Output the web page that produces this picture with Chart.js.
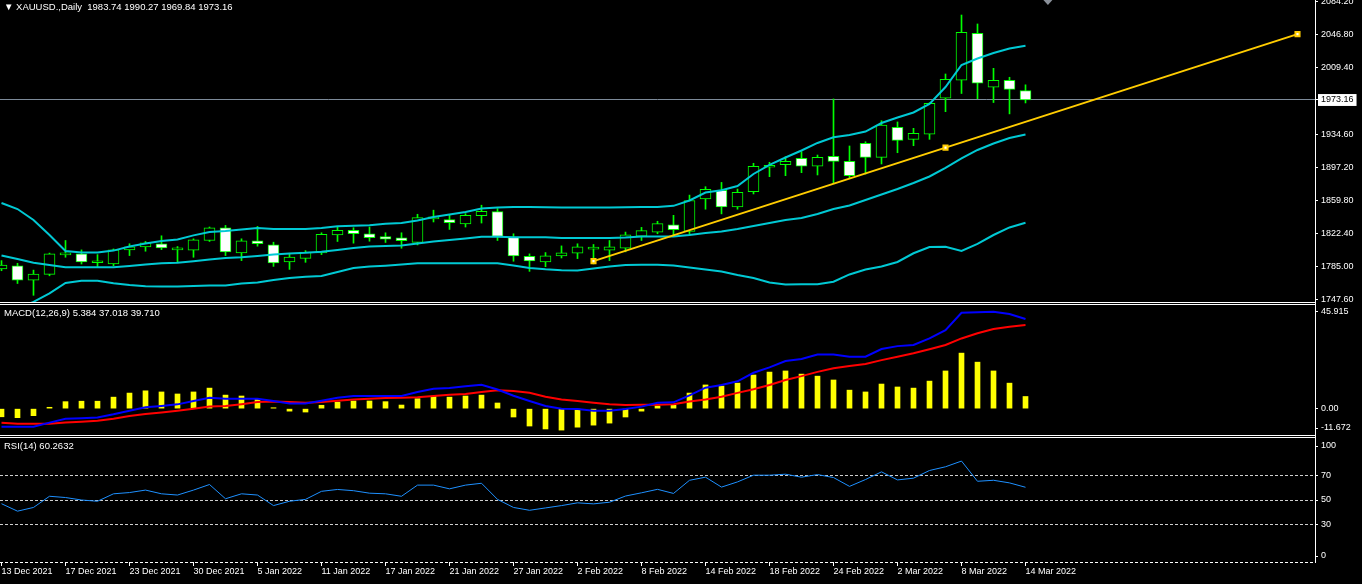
<!DOCTYPE html>
<html>
<head>
<meta charset="utf-8">
<title>XAUUSD Daily</title>
<script src="https://cdn.jsdelivr.net/npm/chart.js@4.4.1/dist/chart.umd.min.js"></script>
<style>
  html, body { margin: 0; padding: 0; background: #000; }
  #wrap { position: relative; width: 1362px; height: 584px; overflow: hidden; background: #000; }
  canvas { position: absolute; left: 0; }
  .sep { position: absolute; left: 0; width: 1316px; height: 1px; background: #fff; }
</style>
</head>
<body>
<div id="wrap">
  <canvas id="priceChart" width="1362" height="302" style="top:0"></canvas>
  <div class="sep" style="top:302px"></div>
  <div class="sep" style="top:304px"></div>
  <canvas id="macdChart" width="1362" height="130" style="top:305px"></canvas>
  <div class="sep" style="top:435px"></div>
  <div class="sep" style="top:437px"></div>
  <canvas id="rsiChart" width="1362" height="146" style="top:438px"></canvas>
  <div style="position:absolute;left:1315px;top:302px;width:1px;height:136px;background:#fff"></div>
</div>
<script>
// XAUUSD daily bars, 13 Dec 2021 .. 14 Mar 2022
const symbol = 'XAUUSD.';
const period = 'Daily';

// date labels, one every 4 bars
const tickLabels = ['13 Dec 2021', '17 Dec 2021', '23 Dec 2021', '30 Dec 2021', '5 Jan 2022',
  '11 Jan 2022', '17 Jan 2022', '21 Jan 2022', '27 Jan 2022', '2 Feb 2022', '8 Feb 2022',
  '14 Feb 2022', '18 Feb 2022', '24 Feb 2022', '2 Mar 2022', '8 Mar 2022', '14 Mar 2022'];
const tickStep = 4;

const opens = [1782.6, 1786.0, 1770.0, 1776.5, 1798.5, 1799.6, 1789.6, 1788.2, 1804.1, 1807.5,
  1811.0, 1804.1, 1803.8, 1814.7, 1829.1, 1800.7, 1814.4, 1809.7, 1790.5, 1794.6,
  1800.7, 1821.1, 1826.1, 1822.3, 1819.2, 1817.8, 1812.5, 1839.0, 1838.3, 1833.3,
  1842.8, 1847.3, 1818.5, 1796.9, 1790.5, 1797.3, 1800.3, 1804.9, 1803.8, 1806.0,
  1819.7, 1824.2, 1832.5, 1825.0, 1861.7, 1871.2, 1852.6, 1869.7, 1897.3, 1900.2,
  1907.4, 1898.4, 1909.7, 1904.0, 1924.3, 1908.5, 1942.4, 1928.8, 1934.5, 1975.1,
  1995.4, 2048.4, 1987.5, 1995.4, 1983.74];
const highs = [1792.0, 1789.0, 1781.3, 1800.5, 1814.7, 1804.1, 1798.8, 1805.2, 1811.0, 1813.6,
  1820.0, 1807.9, 1816.6, 1829.9, 1831.7, 1816.6, 1830.6, 1812.8, 1800.3, 1803.3,
  1823.4, 1829.9, 1829.1, 1829.9, 1823.4, 1823.4, 1844.3, 1848.9, 1843.1, 1845.0,
  1854.5, 1850.7, 1822.3, 1799.6, 1801.1, 1808.6, 1811.0, 1810.2, 1814.7, 1824.2,
  1829.5, 1836.4, 1843.1, 1865.9, 1875.4, 1880.2, 1872.7, 1901.8, 1902.9, 1909.2,
  1914.9, 1911.1, 1974.3, 1921.3, 1926.1, 1949.8, 1948.4, 1941.2, 1970.0, 2002.5,
  2069.0, 2058.9, 2008.9, 1998.8, 1990.27];
const lows = [1780.6, 1766.2, 1752.9, 1774.9, 1795.8, 1788.2, 1785.2, 1786.3, 1797.7, 1802.6,
  1804.4, 1790.1, 1795.8, 1813.6, 1797.7, 1792.0, 1808.3, 1785.5, 1782.1, 1790.1,
  1798.8, 1813.6, 1811.7, 1813.9, 1812.5, 1806.0, 1809.7, 1835.6, 1827.2, 1829.9,
  1834.4, 1814.7, 1791.3, 1779.9, 1785.2, 1795.0, 1794.3, 1788.2, 1792.0, 1801.9,
  1814.7, 1822.3, 1819.2, 1821.1, 1850.0, 1844.7, 1850.0, 1867.2, 1886.7, 1887.8,
  1891.2, 1888.6, 1879.2, 1884.9, 1889.7, 1901.0, 1913.7, 1921.6, 1928.8, 1960.0,
  1980.5, 1974.6, 1970.3, 1957.5, 1969.84];
const closes = [1787.1, 1770.0, 1776.8, 1799.6, 1799.9, 1790.5, 1789.9, 1804.1, 1807.5, 1812.1,
  1806.4, 1805.7, 1815.5, 1829.1, 1801.9, 1814.4, 1811.0, 1789.3, 1796.1, 1801.5,
  1821.6, 1826.1, 1822.3, 1817.8, 1816.3, 1814.4, 1840.5, 1840.5, 1834.8, 1843.1,
  1847.6, 1819.2, 1797.3, 1791.6, 1797.3, 1800.7, 1807.5, 1806.4, 1807.5, 1821.1,
  1825.8, 1833.7, 1826.9, 1859.8, 1872.3, 1852.6, 1869.0, 1898.4, 1898.7, 1904.0,
  1898.4, 1908.5, 1904.0, 1887.8, 1908.5, 1945.0, 1927.7, 1935.6, 1969.4, 1996.5,
  2049.5, 1992.0, 1995.4, 1985.2, 1973.16];

// Bollinger bands
const bbUpper = [1857.0, 1850.2, 1837.8, 1820.9, 1802.9, 1801.1, 1801.1, 1803.3, 1807.9, 1811.3,
  1814.1, 1815.8, 1820.5, 1824.2, 1825.4, 1827.1, 1828.7, 1827.7, 1827.6, 1827.6,
  1828.8, 1830.7, 1831.4, 1832.0, 1833.5, 1834.4, 1837.3, 1841.2, 1844.0, 1846.9,
  1850.8, 1851.9, 1852.5, 1852.5, 1852.2, 1851.9, 1851.8, 1851.8, 1851.9, 1852.3,
  1852.5, 1852.6, 1853.8, 1859.8, 1868.8, 1871.3, 1876.2, 1889.7, 1899.9, 1908.3,
  1916.2, 1924.7, 1931.1, 1933.7, 1937.6, 1947.2, 1953.4, 1959.1, 1968.7, 1987.8,
  2012.6, 2020.0, 2026.2, 2031.2, 2034.4];
const bbMiddle = [1797.8, 1793.8, 1789.7, 1787.1, 1784.6, 1784.4, 1784.4, 1784.4, 1786.0, 1787.6,
  1789.0, 1789.6, 1791.4, 1793.3, 1795.0, 1795.8, 1797.2, 1798.9, 1800.0, 1800.8,
  1802.0, 1804.0, 1806.2, 1807.9, 1808.5, 1809.1, 1811.3, 1813.6, 1815.3, 1817.0,
  1818.9, 1818.9, 1818.5, 1818.5, 1818.4, 1817.5, 1817.4, 1817.4, 1817.4, 1818.1,
  1819.2, 1819.2, 1819.2, 1820.9, 1823.2, 1824.9, 1827.7, 1831.1, 1834.4, 1837.8,
  1840.1, 1844.6, 1850.2, 1854.2, 1860.4, 1866.6, 1872.8, 1879.6, 1886.9, 1896.5,
  1907.2, 1916.8, 1924.1, 1930.3, 1934.3];
const bbLower = [1738.5, 1737.5, 1745.5, 1755.0, 1766.8, 1769.3, 1769.3, 1766.5, 1764.5, 1763.1,
  1762.8, 1762.8, 1763.4, 1764.0, 1764.0, 1766.2, 1767.3, 1770.2, 1772.4, 1773.8,
  1774.6, 1779.2, 1783.7, 1785.4, 1786.3, 1787.6, 1789.0, 1789.0, 1789.0, 1789.0,
  1789.0, 1789.0, 1786.5, 1783.7, 1782.2, 1781.2, 1780.9, 1783.1, 1785.4, 1787.1,
  1787.4, 1787.3, 1786.5, 1784.3, 1782.0, 1779.7, 1775.8, 1772.4, 1767.3, 1765.1,
  1765.3, 1765.3, 1768.2, 1776.4, 1782.0, 1785.4, 1790.5, 1800.3, 1807.4, 1807.7,
  1802.9, 1810.8, 1820.9, 1829.4, 1834.8];

// trend line anchors (bar index, price)
const trendBars = [37, 81];
const trendPrices = [1791.4, 2047.4];

const priceLevels = [2084.20, 2046.80, 2009.40, 1934.60, 1897.20, 1859.80, 1822.40, 1785.00, 1747.60];
const priceRange = [1745.34, 2085.94];

// MACD(12,26,9)
const macdHist = [-3.6, -4.0, -3.1, 0.6, 3.1, 3.3, 3.3, 5.1, 6.9, 7.9,
  7.4, 6.5, 7.4, 9.1, 6.0, 5.6, 4.1, 0.4, -1.1, -1.5,
  1.5, 2.9, 3.4, 3.4, 3.1, 1.6, 4.4, 5.4, 5.1, 5.6,
  6.0, 2.5, -3.7, -7.7, -9.0, -9.5, -8.2, -7.3, -6.4, -3.7,
  -1.1, 1.2, 1.5, 6.9, 10.5, 10.0, 11.3, 14.9, 16.2, 16.7,
  15.3, 14.4, 12.7, 8.2, 7.4, 10.9, 9.6, 9.1, 12.2, 16.7,
  24.6, 20.6, 16.7, 11.3, 5.384];
const macdMain = [-8.0, -8.0, -8.0, -6.2, -4.5, -4.2, -3.9, -2.5, -0.9, 0.6,
  1.2, 1.9, 3.4, 4.8, 4.4, 4.4, 4.4, 3.4, 2.3, 2.3,
  3.5, 4.8, 5.6, 5.6, 5.6, 5.6, 7.4, 8.8, 9.1, 9.9,
  10.6, 8.5, 5.7, 3.4, 1.2, 0.0, -0.2, -0.9, -0.9, -0.2,
  0.9, 2.6, 2.8, 5.9, 9.3, 10.5, 12.1, 15.9, 18.3, 21.1,
  22.0, 24.0, 24.0, 23.0, 23.0, 26.4, 27.7, 28.2, 31.1, 34.8,
  42.5, 42.7, 42.9, 41.9, 39.710];
const macdSignal = [-6.2, -6.7, -6.7, -6.7, -6.1, -5.8, -5.4, -4.5, -3.3, -2.4,
  -1.7, -0.9, 0.0, 0.9, 1.2, 2.0, 2.9, 3.2, 2.9, 2.6,
  2.9, 3.5, 4.1, 4.4, 4.7, 4.8, 5.1, 5.6, 6.2, 6.5,
  7.4, 8.2, 7.8, 7.0, 5.3, 4.1, 3.4, 2.6, 1.9, 1.6,
  1.7, 1.7, 2.0, 3.2, 4.1, 5.3, 7.0, 8.6, 10.5, 12.7,
  14.4, 16.3, 17.9, 18.9, 19.8, 21.5, 23.0, 24.5, 26.3, 28.2,
  31.1, 33.4, 35.3, 36.3, 37.018];
const macdRange = [-11.672, 45.915];

// RSI(14)
const rsiValues = [47, 41, 44, 53, 52, 50, 49, 55, 56, 58,
  55, 54, 58, 62.5, 51, 55, 54, 45.5, 49, 50.5,
  57, 58.5, 57.5, 55.5, 55, 53, 62, 62, 59, 62,
  63.5, 50.5, 44, 41.7, 43.6, 45.5, 47.7, 46.9, 48.2, 53.2,
  55.8, 58.6, 55.3, 65.9, 68.4, 60.4, 64.6, 70, 70, 70.8,
  68.4, 70.5, 68.1, 61, 66.5, 72.7, 66.2, 67.6, 73.8, 76.8,
  81.4, 65.1, 65.9, 63.8, 60.2632];
const rsiLevels = [70, 50, 30];

// layout
const BAR_PX = 16;
const PLOT_W = 1315;
const AXIS_W = 47;
const X_MIN = -1.5 / BAR_PX;
const X_MAX = X_MIN + PLOT_W / BAR_PX;
const FONT = "'Liberation Sans', Arial, sans-serif";
const tickFont = { family: FONT, size: 9, lineHeight: 1.1 };
const BB_COLOR = '#00c9d4';
const CLEAR = 'rgba(0,0,0,0)';

const last = closes.length - 1;
const lastClose = closes[last];
const pts = arr => arr.map((v, i) => ({ x: i, y: v }));
const pxToValue = (s, px) => px * (s.max - s.min) / s.height;

const fitAxis = s => { s.width = AXIS_W; s.paddingTop = 0; s.paddingBottom = 0; };
const hiddenX = { type: 'linear', min: X_MIN, max: X_MAX, offset: false, display: false };

// indicator caption in the top-left corner of each pane
const panelText = {
  id: 'panelText',
  afterDraw(chart, args, opts) {
    const { ctx, chartArea } = chart;
    ctx.save();
    ctx.font = '9.5px ' + FONT;
    ctx.fillStyle = '#fff';
    ctx.textBaseline = 'middle';
    ctx.fillText(opts.text, chartArea.left + 4, chartArea.top + opts.y);
    if (opts.shift != null) {
      const px = chart.scales.x.getPixelForValue(opts.shift);
      ctx.fillStyle = '#8a9099';
      ctx.beginPath();
      ctx.moveTo(px - 4.5, 0); ctx.lineTo(px + 4.5, 0); ctx.lineTo(px, 5);
      ctx.closePath(); ctx.fill();
    }
    ctx.restore();
  }
};

const baseOptions = {
  responsive: false,
  animation: false,
  devicePixelRatio: 1,
  events: [],
  layout: { padding: 0, autoPadding: false }
};

// price pane
const trendPoints = [
  { x: trendBars[0], y: trendPrices[0] },
  { x: (trendBars[0] + trendBars[1]) / 2, y: (trendPrices[0] + trendPrices[1]) / 2 },
  { x: trendBars[1], y: trendPrices[1] }
];
const axisTicks = priceLevels.concat([lastClose]);
const isLast = c => c.tick && c.tick.value === lastClose;

new Chart(document.getElementById('priceChart'), {
  type: 'bar',
  data: {
    datasets: [
      {
        label: 'Body',
        data: opens.map((o, i) => ({ x: i, y: [o, closes[i]] })),
        backgroundColor: opens.map((o, i) => (closes[i] >= o ? '#000' : '#fff')),
        borderColor: '#00ff00', borderWidth: 1, borderSkipped: false,
        barThickness: 11, minBarLength: 2, grouped: false, order: 4
      },
      {
        label: 'Wick',
        data: lows.map((l, i) => ({ x: i, y: [l, highs[i]] })),
        backgroundColor: '#00ff00', borderWidth: 0,
        barThickness: 1, grouped: false, order: 5
      },
      { type: 'line', label: 'Upper', data: pts(bbUpper), borderColor: BB_COLOR, borderWidth: 2, pointRadius: 0, order: 2 },
      { type: 'line', label: 'Middle', data: pts(bbMiddle), borderColor: BB_COLOR, borderWidth: 2, pointRadius: 0, order: 2 },
      { type: 'line', label: 'Lower', data: pts(bbLower), borderColor: BB_COLOR, borderWidth: 2, pointRadius: 0, order: 2 },
      {
        type: 'line', label: 'Trend', data: trendPoints,
        borderColor: '#ffcc00', borderWidth: 2,
        pointStyle: 'rect', pointRadius: 2.9, pointBorderWidth: 2,
        pointBackgroundColor: '#fff', pointBorderColor: '#ffcc00', order: 1
      }
    ]
  },
  options: Object.assign({}, baseOptions, {
    plugins: {
      legend: { display: false },
      tooltip: { enabled: false },
      panelText: {
        text: '\u25BC ' + symbol + ',' + period + '  ' +
          [opens[last], highs[last], lows[last], closes[last]].map(v => v.toFixed(2)).join(' '),
        y: 7.5,
        shift: 65.4
      }
    },
    scales: {
      x: hiddenX,
      y: {
        position: 'right',
        min: priceRange[0], max: priceRange[1],
        afterBuildTicks: s => { s.ticks = axisTicks.map(v => ({ value: v })); },
        afterFit: fitAxis,
        border: { display: true, color: '#fff', width: 1 },
        grid: {
          color: c => (isLast(c) ? '#7c8a99' : CLEAR),
          tickColor: '#fff', tickLength: 3
        },
        ticks: {
          autoSkip: false, padding: 3, font: tickFont,
          color: c => (isLast(c) ? '#000' : '#fff'),
          showLabelBackdrop: c => isLast(c),
          backdropColor: '#fff',
          backdropPadding: { x: 3, y: 1 },
          callback: v => v.toFixed(2)
        }
      }
    }
  }),
  plugins: [panelText]
});

// MACD pane
const macdTickText = [macdRange[1].toFixed(3), '0.00', macdRange[0].toFixed(3)];
new Chart(document.getElementById('macdChart'), {
  type: 'bar',
  data: {
    datasets: [
      { label: 'Histogram', data: pts(macdHist), backgroundColor: '#ffff00', barThickness: 5, grouped: false, order: 3 },
      { type: 'line', label: 'Signal', data: pts(macdSignal), borderColor: '#ff0000', borderWidth: 2, pointRadius: 0, order: 2 },
      { type: 'line', label: 'MACD', data: pts(macdMain), borderColor: '#0000ff', borderWidth: 2, pointRadius: 0, order: 1 }
    ]
  },
  options: Object.assign({}, baseOptions, {
    plugins: {
      legend: { display: false },
      tooltip: { enabled: false },
      panelText: {
        text: 'MACD(12,26,9) ' + macdHist[last].toFixed(3) + ' ' +
          macdSignal[last].toFixed(3) + ' ' + macdMain[last].toFixed(3),
        y: 8.5
      }
    },
    scales: {
      x: hiddenX,
      y: {
        position: 'right',
        min: macdRange[0], max: macdRange[1],
        afterBuildTicks: s => {
          const inset = pxToValue(s, 7);
          s.ticks = [{ value: s.max - inset }, { value: 0 }, { value: s.min + inset }];
        },
        afterFit: fitAxis,
        border: { display: true, color: '#fff', width: 1 },
        grid: { drawOnChartArea: false, color: CLEAR, tickColor: '#fff', tickLength: 3 },
        ticks: {
          autoSkip: false, padding: 3, font: tickFont, color: '#fff',
          callback: (v, i) => macdTickText[i]
        }
      }
    }
  }),
  plugins: [panelText]
});

// RSI pane with the date axis
const rsiTickText = ['100', '70', '50', '30', '0', ''];
new Chart(document.getElementById('rsiChart'), {
  type: 'line',
  data: {
    datasets: [
      { label: 'RSI', data: pts(rsiValues), borderColor: '#1e90ff', borderWidth: 1, pointRadius: 0 }
    ]
  },
  options: Object.assign({}, baseOptions, {
    plugins: {
      legend: { display: false },
      tooltip: { enabled: false },
      panelText: { text: 'RSI(14) ' + rsiValues[last].toFixed(4), y: 8.7 }
    },
    scales: {
      x: {
        type: 'linear', min: X_MIN, max: X_MAX, offset: false,
        position: 'bottom',
        afterBuildTicks: s => { s.ticks = tickLabels.map((t, k) => ({ value: k * tickStep })); },
        afterFit: s => { s.height = 22; s.paddingLeft = 0; s.paddingRight = 0; },
        border: { display: false },
        grid: { drawOnChartArea: false, color: CLEAR, tickColor: '#fff', tickLength: 4, offset: false },
        ticks: {
          autoSkip: false, maxRotation: 0, minRotation: 0, align: 'start', padding: 1,
          font: tickFont, color: '#fff',
          callback: (v, i) => tickLabels[i]
        }
      },
      y: {
        position: 'right',
        min: 0, max: 100,
        afterBuildTicks: s => {
          s.ticks = [{ value: 100 - pxToValue(s, 8) }]
            .concat(rsiLevels.map(v => ({ value: v })))
            .concat([{ value: pxToValue(s, 6) }, { value: 0 }]);
        },
        afterFit: fitAxis,
        border: { display: true, color: '#fff', width: 1, dash: [3, 2] },
        grid: {
          color: c => (c.index >= 1 && c.index <= 3 ? '#cfcfcf' : (c.index === 5 ? '#ffffff' : CLEAR)),
          tickColor: c => (c.index === 5 ? CLEAR : '#fff'),
          tickLength: 3
        },
        ticks: {
          autoSkip: false, padding: 3, font: tickFont, color: '#fff',
          callback: (v, i) => rsiTickText[i]
        }
      }
    }
  }),
  plugins: [panelText]
});
</script>
</body>
</html>
